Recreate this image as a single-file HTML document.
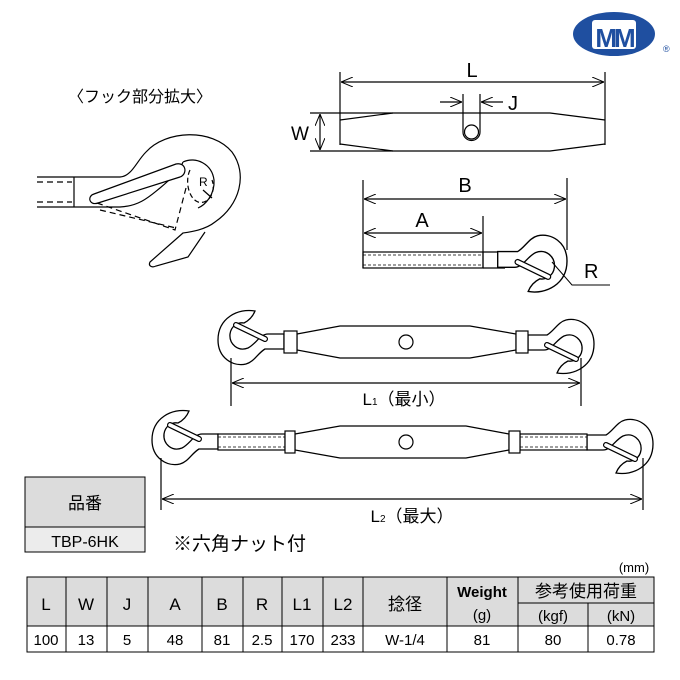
<!DOCTYPE html>
<html><head><meta charset="utf-8"><style>
body{margin:0;background:#fff}
svg{display:block}
text{font-family:"Liberation Sans","Noto Sans CJK JP",sans-serif;fill:#000}
</style></head><body>
<svg width="680" height="680" viewBox="0 0 680 680" xmlns="http://www.w3.org/2000/svg">
<defs>
<g id="hook">
<path d="M17,-29 C0,-32 -20,-22 -20,0 C-20,18 -5,27 8,24 C16,22 20,13 27,9 L46,9 L46,-6 L30,-6 C22,-6 18,4 10,8 C0,12 -9,4 -8,-6 C-7,-14 0,-18 6,-17 C12,-20 15,-24 17,-29 Z" fill="#fff" stroke="#000" stroke-width="1.3"/>
<line x1="-2" y1="-15" x2="27" y2="-1" stroke="#000" stroke-width="6" stroke-linecap="round"/>
<line x1="-2" y1="-15" x2="27" y2="-1" stroke="#fff" stroke-width="3.6" stroke-linecap="round"/>
</g>
<marker id="ar" viewBox="0 0 12 10" refX="12" refY="5" markerWidth="12" markerHeight="10" orient="auto-start-reverse" markerUnits="userSpaceOnUse"><path d="M0,0 L12,5 L0,10" fill="none" stroke="#000" stroke-width="1"/></marker>
</defs>

<!-- logo -->
<ellipse cx="614" cy="34" rx="41" ry="22" fill="#1f4fa0"/>
<rect x="592" y="20" width="44" height="29" fill="#fff" rx="3"/>
<text x="614" y="47" text-anchor="middle" font-size="26" font-weight="bold" style="fill:#1f4fa0;letter-spacing:-3px">MM</text>
<text x="663" y="52" font-size="9" style="fill:#1f4fa0">®</text>

<text x="68" y="102" font-size="16">〈フック部分拡大〉</text>

<!-- detail hook -->
<g fill="none" stroke="#000" stroke-width="1.2">
<line x1="37" y1="177" x2="74" y2="177"/><line x1="37" y1="207" x2="74" y2="207"/>
<line x1="74" y1="177" x2="74" y2="207"/>
<line x1="37" y1="182" x2="72" y2="182" stroke-dasharray="6,4"/><line x1="37" y1="202" x2="72" y2="202" stroke-dasharray="6,4"/>
<path d="M74,177 L120,177 C132,176 136,162 146,152 C166,130 212,128 232,152 C248,174 240,205 215,222 C205,230 190,232 183,233 L150,262 C148,266 152,268 156,266 L188,257 L205,232" fill="#fff"/>
<path d="M74,207 L120,207 C140,206 150,196 160,188 C172,178 180,170 183,162"/>
<path d="M94,194 L176,164 C186,162 188,174 180,177 L98,203 C89,206 87,196 94,194 Z" fill="#fff"/>
<path d="M183,162 C196,156 212,164 214,180 C215,195 205,205 198,208"/>
<path d="M97,203 L175,230 L186,188" stroke-dasharray="6,4"/>
<path d="M100,210 L176,228" stroke-dasharray="6,4"/>
<path d="M190,170 C185,180 188,198 198,202 C210,205 216,190 212,180" stroke-dasharray="5,3"/>
<line x1="203" y1="190" x2="212" y2="198"/>
</g>
<text x="199" y="186" font-size="12">R</text>

<!-- L/W/J diagram -->
<g fill="none" stroke="#000" stroke-width="1.2">
<line x1="340" y1="72" x2="340" y2="145"/><line x1="605" y1="72" x2="605" y2="145"/>
<line x1="341" y1="82" x2="604" y2="82" marker-start="url(#ar)" marker-end="url(#ar)"/>
<path d="M340,120 L393,113 L550,113 L605,120 M340,144 L393,151 L550,151 L605,144"/>
<line x1="310" y1="113" x2="393" y2="113"/><line x1="310" y1="151" x2="393" y2="151"/>
<line x1="320" y1="114" x2="320" y2="150" marker-start="url(#ar)" marker-end="url(#ar)"/>
<path d="M463,94 L463,132 A8,8 0 0 0 480,132 L480,94"/>
<line x1="440" y1="102" x2="462" y2="102" marker-end="url(#ar)"/>
<line x1="503" y1="102" x2="481" y2="102" marker-end="url(#ar)"/>
</g>
<circle cx="471.5" cy="132" r="7" fill="#fff" stroke="#000" stroke-width="1.2"/>
<text x="472" y="77" font-size="20" text-anchor="middle">L</text>
<text x="508" y="110" font-size="20">J</text>
<text x="291" y="140" font-size="19">W</text>

<!-- A/B diagram -->
<g fill="none" stroke="#000" stroke-width="1.2">
<line x1="363" y1="180" x2="363" y2="268"/><line x1="567" y1="178" x2="567" y2="250"/>
<line x1="483" y1="216" x2="483" y2="268"/>
<line x1="364" y1="199" x2="566" y2="199" marker-start="url(#ar)" marker-end="url(#ar)"/>
<line x1="364" y1="233" x2="482" y2="233" marker-start="url(#ar)" marker-end="url(#ar)"/>
<rect x="363" y="252" width="120" height="16"/>
<line x1="363" y1="255" x2="483" y2="255" stroke-dasharray="3,2" stroke-width="0.8"/>
<line x1="363" y1="265" x2="483" y2="265" stroke-dasharray="3,2" stroke-width="0.8"/>
<line x1="483" y1="252" x2="505" y2="252"/><line x1="483" y1="268" x2="505" y2="268"/>
</g>
<use href="#hook" transform="translate(546,261) scale(-1.05,-1.05)"/>
<path d="M552,262 L572,285 L610,285" fill="none" stroke="#000" stroke-width="1"/>
<text x="465" y="192" font-size="20" text-anchor="middle">B</text>
<text x="422" y="227" font-size="20" text-anchor="middle">A</text>
<text x="584" y="278" font-size="20">R</text>

<!-- turnbuckle 1 -->
<g stroke="#000" stroke-width="1.2" fill="#fff">
<use href="#hook" transform="translate(238,340)"/>
<use href="#hook" transform="translate(574,344) scale(-1,-1)"/>
<path d="M297,334 L340,326 L470,326 L516,334 L516,350 L470,358 L340,358 L297,350 Z"/>
<rect x="284" y="331" width="13" height="22"/>
<rect x="516" y="331" width="12" height="22"/>
<circle cx="406" cy="342" r="7"/>
<g fill="none"><line x1="231" y1="358" x2="231" y2="406"/><line x1="581" y1="358" x2="581" y2="406"/>
<line x1="232" y1="383" x2="580" y2="383" marker-start="url(#ar)" marker-end="url(#ar)"/></g>
</g>
<text x="404" y="405" font-size="17" text-anchor="middle">L<tspan font-size="10">1</tspan>（最小）</text>

<!-- turnbuckle 2 -->
<g stroke="#000" stroke-width="1.2" fill="#fff">
<use href="#hook" transform="translate(172,440)"/>
<use href="#hook" transform="translate(633,444) scale(-1,-1)"/>
<rect x="218" y="434" width="67" height="16"/>
<rect x="520" y="434" width="67" height="16"/>
<line x1="218" y1="437" x2="285" y2="437" stroke-dasharray="3,2" stroke-width="0.8"/>
<line x1="218" y1="447" x2="285" y2="447" stroke-dasharray="3,2" stroke-width="0.8"/>
<line x1="520" y1="437" x2="587" y2="437" stroke-dasharray="3,2" stroke-width="0.8"/>
<line x1="520" y1="447" x2="587" y2="447" stroke-dasharray="3,2" stroke-width="0.8"/>
<path d="M295,434 L340,426 L466,426 L509,434 L509,450 L466,458 L340,458 L295,450 Z"/>
<rect x="285" y="431" width="10" height="22"/>
<rect x="509" y="431" width="11" height="22"/>
<circle cx="406" cy="442" r="7"/>
<g fill="none"><line x1="161" y1="458" x2="161" y2="510"/><line x1="643" y1="458" x2="643" y2="510"/>
<line x1="162" y1="499" x2="642" y2="499" marker-start="url(#ar)" marker-end="url(#ar)"/></g>
</g>
<text x="412" y="522" font-size="17" text-anchor="middle">L<tspan font-size="10">2</tspan>（最大）</text>

<!-- part number box -->
<rect x="25" y="477" width="120" height="50" fill="#dcdcdc" stroke="#000"/>
<rect x="25" y="527" width="120" height="25" fill="#ececec" stroke="#000"/>
<text x="85" y="509" font-size="17" text-anchor="middle">品番</text>
<text x="85" y="547" font-size="16" text-anchor="middle">TBP-6HK</text>
<text x="173" y="550" font-size="19">※六角ナット付</text>

<!-- table -->
<text x="634" y="572" font-size="13" text-anchor="middle">(mm)</text>
<rect x="27" y="577" width="627" height="49" fill="#dcdcdc"/>
<g stroke="#000" stroke-width="1" fill="none">
<rect x="27" y="577" width="627" height="75"/>
<line x1="27" y1="626" x2="654" y2="626"/>
<line x1="518" y1="603" x2="654" y2="603"/>
<line x1="66" y1="577" x2="66" y2="652"/><line x1="107" y1="577" x2="107" y2="652"/>
<line x1="148" y1="577" x2="148" y2="652"/><line x1="202" y1="577" x2="202" y2="652"/>
<line x1="243" y1="577" x2="243" y2="652"/><line x1="282" y1="577" x2="282" y2="652"/>
<line x1="323" y1="577" x2="323" y2="652"/><line x1="363" y1="577" x2="363" y2="652"/>
<line x1="447" y1="577" x2="447" y2="652"/><line x1="518" y1="577" x2="518" y2="652"/>
<line x1="588" y1="603" x2="588" y2="652"/>
</g>
<g font-size="17" text-anchor="middle">
<text x="46" y="610">L</text><text x="86" y="610">W</text><text x="127" y="610">J</text>
<text x="175" y="610">A</text><text x="222" y="610">B</text><text x="262" y="610">R</text>
<text x="302" y="610">L1</text><text x="343" y="610">L2</text><text x="405" y="610">捻径</text>
<text x="482" y="597" font-weight="bold" font-size="15">Weight</text>
<text x="482" y="620" font-size="15">(g)</text>
<text x="586" y="597">参考使用荷重</text>
<text x="553" y="621" font-size="15">(kgf)</text><text x="621" y="621" font-size="15">(kN)</text>
</g>
<g font-size="15" text-anchor="middle">
<text x="46" y="645">100</text><text x="86" y="645">13</text><text x="127" y="645">5</text>
<text x="175" y="645">48</text><text x="222" y="645">81</text><text x="262" y="645">2.5</text>
<text x="302" y="645">170</text><text x="343" y="645">233</text><text x="405" y="645">W-1/4</text>
<text x="482" y="645">81</text><text x="553" y="645">80</text><text x="621" y="645">0.78</text>
</g>
</svg>
</body></html>
